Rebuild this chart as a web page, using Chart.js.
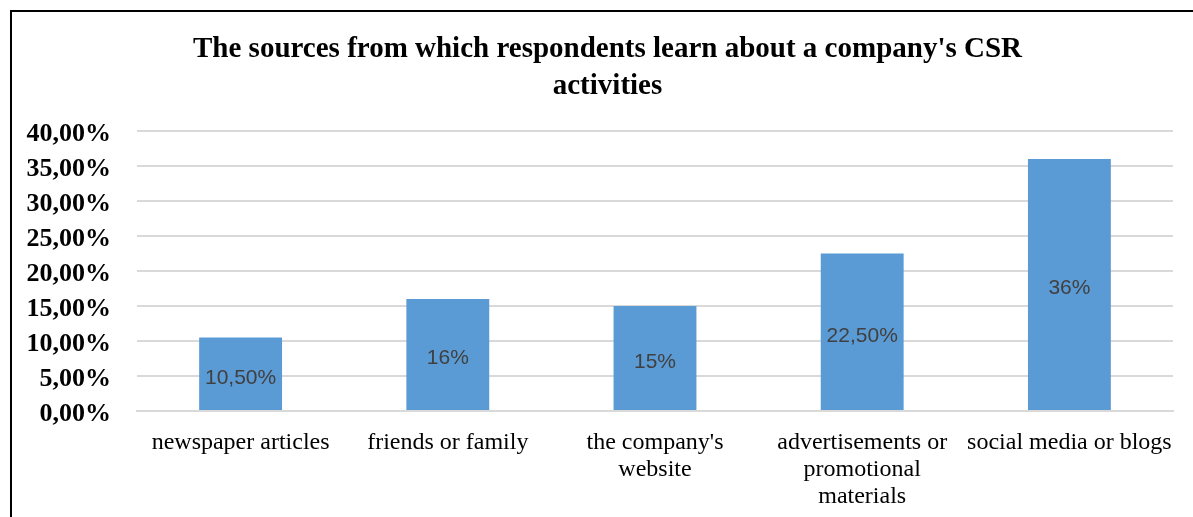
<!DOCTYPE html>
<html>
<head>
<meta charset="utf-8">
<script src="https://cdn.jsdelivr.net/npm/chart.js@4"></script>
<style>
  html, body { margin: 0; padding: 0; background: #fff; overflow: hidden; }
  #frame {
    position: absolute; left: 10px; top: 10px;
    width: 1191px; height: 507px;
    border-left: 2px solid #000; border-top: 2px solid #000;
  }
</style>
</head>
<body>
<div id="frame"><canvas id="chart" width="1191" height="507"></canvas></div>
<script>
const categories = [
  "newspaper articles",
  ["friends or family"],
  ["the company's", "website"],
  ["advertisements or", "promotional", "materials"],
  "social media or blogs"
]
const shares = [10.5, 16, 15, 22.5, 36]
const titleLines = [
  "The sources from which respondents learn about a company's CSR",
  "activities"
]

// Excel-style percentage text: 10,50% / 16%
const pct = (v, fixed) => {
  if (fixed) return v.toFixed(2).replace(".", ",") + "%"
  return Number.isInteger(v) ? v + "%" : v.toFixed(2).replace(".", ",") + "%"
}

const serif = "'Liberation Serif', 'Times New Roman', serif"

// title centred on the whole canvas (the right padding would shift the built-in one)
const chartTitle = {
  id: "chartTitle",
  afterDraw(chart) {
    const { ctx } = chart
    ctx.save()
    ctx.fillStyle = "#000"
    ctx.font = "bold 29px " + serif
    ctx.textAlign = "center"
    ctx.textBaseline = "middle"
    titleLines.forEach((line, i) => {
      ctx.fillText(line, chart.width / 2, 38 + i * 37)
    })
    ctx.restore()
  }
}

// values written in the middle of each bar
const centerLabels = {
  id: "centerLabels",
  afterDatasetsDraw(chart) {
    const { ctx } = chart
    const meta = chart.getDatasetMeta(0)
    ctx.save()
    ctx.fillStyle = "#404040"
    ctx.font = "21px 'Liberation Sans', Arial, sans-serif"
    ctx.textAlign = "center"
    ctx.textBaseline = "middle"
    meta.data.forEach((bar, i) => {
      const mid = (bar.y + bar.base) / 2 + 4
      ctx.fillText(pct(shares[i]), bar.x, mid)
    })
    ctx.restore()
  }
}

new Chart(document.getElementById("chart"), {
  type: "bar",
  data: {
    labels: categories,
    datasets: [{
      data: shares,
      backgroundColor: "#5b9bd5",
      barPercentage: 0.4,
      categoryPercentage: 1
    }]
  },
  options: {
    responsive: false,
    animation: false,
    layout: { padding: { left: 0, right: 30, top: 119, bottom: 0 } },
    plugins: {
      legend: { display: false },
      tooltip: { enabled: false },
      title: { display: false }
    },
    scales: {
      y: {
        min: 0,
        max: 40,
        ticks: {
          stepSize: 5,
          color: "#000",
          padding: 26,
          labelOffset: 3,
          font: { family: serif, size: 26, weight: "bold" },
          callback: (v) => pct(v, true)
        },
        grid: { color: "#d9d9d9", lineWidth: 2, drawTicks: false },
        border: { display: false },
        afterFit: (s) => { s.width = 125 }
      },
      x: {
        ticks: {
          color: "#000",
          padding: 10,
          maxRotation: 0,
          autoSkip: false,
          font: { family: serif, size: 24, lineHeight: 1.125 }
        },
        grid: { display: false },
        border: { color: "#d9d9d9", width: 2 },
        afterFit: (s) => { s.height = 108 }
      }
    }
  },
  plugins: [centerLabels, chartTitle]
})
</script>
</body>
</html>
